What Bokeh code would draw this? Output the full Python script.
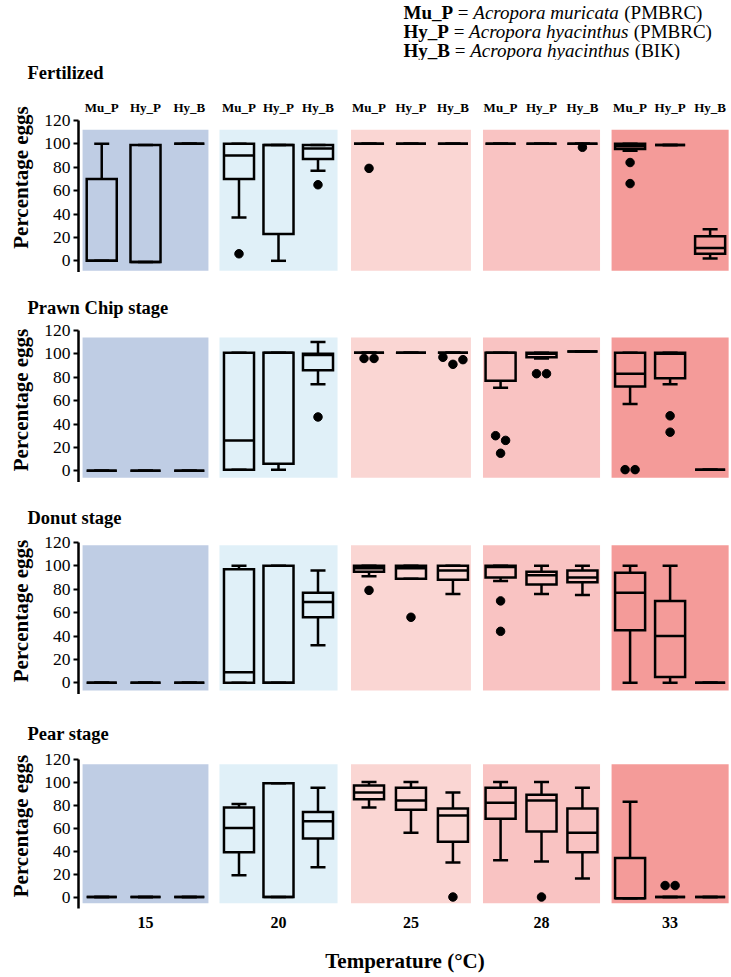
import numpy as np
from bokeh.plotting import figure
from bokeh.models import ColumnDataSource, Range1d, FixedTicker, Title, Spacer
from bokeh.layouts import column
from bokeh.embed import file_html
from bokeh.resources import INLINE
from bokeh.core.properties import value

# ---------------- data ----------------
temperatures = ["15", "20", "25", "28", "33"]
species = ["Mu_P", "Hy_P", "Hy_B"]
stages = ["Fertilized", "Prawn Chip stage", "Donut stage", "Pear stage"]

# order of the 15 boxes: 15 (Mu_P, Hy_P, Hy_B), 20 (...), 25 (...), 28 (...), 33 (...)
fert_lo  = [0, -1, 100,  37, 0, 77,     100, 100, 100,  100, 100, 100,  94, 99, 2]
fert_q1  = [0, -1, 100,  70, 23, 87,    100, 100, 100,  100, 100, 100,  95.5, 99, 6]
fert_med = [0, -1, 100,  90, 99, 96,    100, 100, 100,  100, 100, 100,  98, 99, 11]
fert_q3  = [70, 99, 100, 100, 99, 99,   100, 100, 100,  100, 100, 100,  100, 99, 21]
fert_hi  = [100, 99, 100, 100, 99, 99,  100, 100, 100,  100, 100, 100,  100, 99, 27]
fert_out = [[], [], [], [6], [], [65], [79], [], [], [], [], [97], [84, 66], [], []]

prawn_lo  = [0, 0, 0,  1, 1, 74,       101, 101, 101,  71, 96, 102,   57, 74, 1]
prawn_q1  = [0, 0, 0,  1, 6, 86,       101, 101, 101,  77, 97, 102,   72, 79, 1]
prawn_med = [0, 0, 0,  26, 101, 99,    101, 101, 101,  101, 100, 102, 83, 100, 1]
prawn_q3  = [0, 0, 0,  101, 101, 100,  101, 101, 101,  101, 101, 102, 101, 101, 1]
prawn_hi  = [0, 0, 0,  101, 101, 110,  101, 101, 101,  101, 101, 102, 101, 101, 1]
prawn_out = [[], [], [], [], [], [46], [96, 96], [], [97, 91, 95],
             [30, 15, 26], [83, 83], [], [1, 1], [47, 33], []]

donut_lo  = [0, 0, 0,  0, 0, 32,      91, 89, 76,     87, 76, 75,   0, 0, 0]
donut_q1  = [0, 0, 0,  0, 0, 56,      95, 89, 88,     90, 84, 86,   45, 5, 0]
donut_med = [0, 0, 0,  9, 0, 69,      98, 98, 96,     99, 92, 90,   77, 40, 0]
donut_q3  = [0, 0, 0,  97, 100, 77,   100, 100, 100,  100, 95, 96,  94, 70, 0]
donut_hi  = [0, 0, 0,  100, 100, 96,  100, 100, 100,  100, 100, 100, 100, 100, 0]
donut_out = [[], [], [], [], [], [], [79], [56], [], [70, 44], [], [], [], [], []]

pear_lo  = [0, 0, 0,  19, 0, 26,   78, 56, 30,    32, 31, 16,    -1, 0, 0]
pear_q1  = [0, 0, 0,  39, 0, 51,   85, 76, 48,    68, 57, 39,    -1, 0, 0]
pear_med = [0, 0, 0,  60, 0, 66,   91, 84, 71,    82, 84, 56,    -1, 0, 0]
pear_q3  = [0, 0, 0,  78, 99, 74,  97, 95, 77,    95, 89, 77,    34, 0, 0]
pear_hi  = [0, 0, 0,  81, 99, 95,  100, 100, 91,  100, 100, 95,  83, 0, 0]
pear_out = [[], [], [], [], [], [], [], [], [0], [], [0], [], [], [10, 10], []]

stage_data = [
    (fert_lo, fert_q1, fert_med, fert_q3, fert_hi, fert_out),
    (prawn_lo, prawn_q1, prawn_med, prawn_q3, prawn_hi, prawn_out),
    (donut_lo, donut_q1, donut_med, donut_q3, donut_hi, donut_out),
    (pear_lo, pear_q1, pear_med, pear_q3, pear_hi, pear_out),
]

legend_codes = ["Mu_P", "Hy_P", "Hy_B"]
legend_names = ["Acropora muricata", "Acropora hyacinthus", "Acropora hyacinthus"]
legend_sites = ["(PMBRC)", "(PMBRC)", "(BIK)"]

yticks = [0, 20, 40, 60, 80, 100, 120]

# ---------------- layout / style ----------------
FONT = "Liberation Serif"
PANEL_COLORS = ["#BFCDE4", "#E0F0F8", "#FAD6D3", "#F9C3C2", "#F49B99"]
XC, XU = 145.0, 129.5          # page x of first group centre, pixels per group
GROUP_X = [0.0, 1.027, 2.050, 3.058, 4.051]
GROUP_SPREAD = [0.338, 0.305, 0.324, 0.316, 0.309]
PANEL_HALF = [0.486, 0.456, 0.463, 0.452, 0.452]
PANEL_TOP = [112, 114, 117.5, 115.5]
PANEL_BOT = [-8.5, -6, -6.5, -5.5]
BOX_W = 0.232
CAP_W = 0.116
LW = 2.5
PX = 1.17                      # pixels per y unit
W = 731
LEFT = 78
TOP = 22                       # title band above each panel

GAP_H = [60, 23, 23, 27]       # header / spacer heights
FRAME_H = [190, 165, 167, 168]
PANEL_B = [0, 0, 0, 64]
LEGEND_Y = [11.5, 31, 50]

# Times / Liberation Serif advance widths (1/1000 em) for the legend text
W_REG = {' ': 250, '=': 564, '(': 333, ')': 333, 'P': 556, 'M': 889, 'B': 667,
         'R': 667, 'C': 667, 'I': 333, 'K': 722}
W_BOLD = {'M': 944, 'u': 556, '_': 500, 'P': 611, 'H': 778, 'y': 500, 'B': 667}
W_ITAL = {'A': 611, 'c': 444, 'r': 389, 'o': 500, 'p': 500, 'a': 500, ' ': 250,
          'm': 722, 'u': 500, 'i': 278, 't': 278, 'h': 500, 'y': 444, 'n': 500, 's': 389}


def tw(txt, table, size):
    return sum(table.get(ch, 500) for ch in txt) * size / 1000.0


def spread(vals, y_px, step):
    offs = [0.0] * len(vals)
    clusters = []
    for i, v in enumerate(vals):
        for c in clusters:
            if any(abs(v - vals[j]) * y_px < 8 for j in c):
                c.append(i)
                break
        else:
            clusters.append([i])
    for c in clusters:
        n = len(c)
        for k, i in enumerate(c):
            offs[i] = (k - (n - 1) / 2) * step
    return offs


def legend_header():
    h = GAP_H[0]
    p = figure(width=W, height=h, title=None, x_range=Range1d(LEFT, W), y_range=Range1d(h, 0),
               output_backend="svg", toolbar_location=None,
               x_axis_location=None, y_axis_location=None,
               min_border_left=LEFT, min_border_right=0, min_border_top=0, min_border_bottom=0)
    p.outline_line_color = None
    p.grid.visible = False
    fs = 19
    xs, ys, txt, sty = [], [], [], []
    for code, name, site, ly in zip(legend_codes, legend_names, legend_sites, LEGEND_Y):
        x = 403.0
        xs.append(x); ys.append(ly); txt.append(code); sty.append("bold")
        x += tw(code, W_BOLD, fs) + tw(" ", W_REG, fs)
        xs.append(x); ys.append(ly); txt.append("="); sty.append("normal")
        x += tw("= ", W_REG, fs)
        xs.append(x); ys.append(ly); txt.append(name); sty.append("italic")
        x += tw(name, W_ITAL, fs) + tw(" ", W_REG, fs)
        xs.append(x); ys.append(ly); txt.append(site); sty.append("normal")
    src = ColumnDataSource(dict(x=xs, y=ys, text=txt, style=sty))
    p.text(x="x", y="y", text="text", text_font=value(FONT), text_font_style="style",
           text_font_size="19px", text_color="black", text_align="left",
           text_baseline="middle", source=src)
    return p


def panel(k):
    fh, B = FRAME_H[k], PANEL_B[k]
    H = TOP + fh + B
    p = figure(width=W, height=H,
               x_range=Range1d((LEFT - XC) / XU, (W - XC) / XU),
               y_range=Range1d(-10, -10 + fh / PX),
               output_backend="svg", toolbar_location=None,
               x_axis_location="below" if k == 3 else None,
               min_border_left=LEFT, min_border_right=0, min_border_top=TOP,
               min_border_bottom=B)
    p.title = Title(text=stages[k], align="left", offset=27 - LEFT, standoff=0,
                    text_font=FONT, text_font_style="bold", text_font_size="18.5px",
                    text_color="black")
    p.outline_line_color = None
    p.grid.visible = False

    bg = ColumnDataSource(dict(
        left=[GROUP_X[g] - PANEL_HALF[g] for g in range(5)],
        right=[GROUP_X[g] + PANEL_HALF[g] for g in range(5)],
        bottom=[PANEL_BOT[k]] * 5, top=[PANEL_TOP[k]] * 5,
        color=PANEL_COLORS))
    p.quad(left="left", right="right", bottom="bottom", top="top",
           fill_color="color", line_color=None, source=bg)

    lo, q1, med, q3, hi, outs = stage_data[k]
    xs = [GROUP_X[g] + (s - 1) * GROUP_SPREAD[g] for g in range(5) for s in range(3)]
    src = ColumnDataSource(dict(
        x=xs,
        left=[x - BOX_W / 2 for x in xs], right=[x + BOX_W / 2 for x in xs],
        cl=[x - CAP_W / 2 for x in xs], cr=[x + CAP_W / 2 for x in xs],
        lo=lo, q1=q1, med=med, q3=q3, hi=hi))
    kw = dict(line_color="black", line_width=LW, source=src)
    p.segment(x0="x", y0="q3", x1="x", y1="hi", **kw)
    p.segment(x0="x", y0="lo", x1="x", y1="q1", **kw)
    p.segment(x0="cl", y0="hi", x1="cr", y1="hi", **kw)
    p.segment(x0="cl", y0="lo", x1="cr", y1="lo", **kw)
    p.quad(left="left", right="right", bottom="q1", top="q3", fill_color=None,
           line_join="miter", **kw)
    p.segment(x0="left", y0="med", x1="right", y1="med", **kw)

    ox, oy = [], []
    for i, vals in enumerate(outs):
        for v, o in zip(vals, spread(vals, PX, 10 / XU)):
            ox.append(xs[i] + o)
            oy.append(v)
    p.scatter(x=ox, y=oy, size=8.5, color="black")

    ax = p.yaxis[0]
    ax.ticker = FixedTicker(ticks=yticks)
    ax.bounds = (-10, 120)
    ax.axis_line_width = LW
    ax.axis_line_color = "black"
    ax.major_tick_line_width = 2
    ax.major_tick_line_color = "black"
    ax.major_tick_out = 5
    ax.major_tick_in = 0
    ax.minor_tick_line_color = None
    ax.major_label_text_font = FONT
    ax.major_label_text_font_size = "17.5px"
    ax.major_label_text_color = "black"
    ax.major_label_standoff = 3
    ax.axis_label = "Percentage eggs"
    ax.axis_label_text_font = FONT
    ax.axis_label_text_font_style = "bold"
    ax.axis_label_text_font_size = "21px"
    ax.axis_label_text_color = "black"
    ax.axis_label_standoff = 8

    if k == 0:
        # species labels above the boxes (page y ~106.5, frame top at page 82)
        y_sp = -10 + (fh - (106.5 - (GAP_H[0] + TOP))) / PX
        p.text(x=xs, y=[y_sp] * len(xs), text=species * 5,
               text_font=value(FONT), text_font_style="bold", text_font_size="13px",
               text_color="black", text_align="center", text_baseline="middle")

    if k == 3:
        xa = p.xaxis[0]
        xa.ticker = FixedTicker(ticks=GROUP_X)
        xa.major_label_overrides = {g: t for g, t in zip(GROUP_X, temperatures)}
        xa.axis_line_color = None
        xa.major_tick_line_color = None
        xa.minor_tick_line_color = None
        xa.major_label_text_font = FONT
        xa.major_label_text_font_style = "bold"
        xa.major_label_text_font_size = "16px"
        xa.major_label_text_color = "black"
        xa.major_label_standoff = 2
        xa.axis_label = "Temperature (°C)"
        xa.axis_label_text_font = FONT
        xa.axis_label_text_font_style = "bold"
        xa.axis_label_text_font_size = "21px"
        xa.axis_label_text_color = "black"
        xa.axis_label_standoff = 18
    return p


children = [legend_header(), panel(0)]
for k in range(1, 4):
    children.append(Spacer(width=W, height=GAP_H[k]))
    children.append(panel(k))

layout = column(*children, spacing=0)
open("out.html", "w").write(file_html(layout, INLINE))
